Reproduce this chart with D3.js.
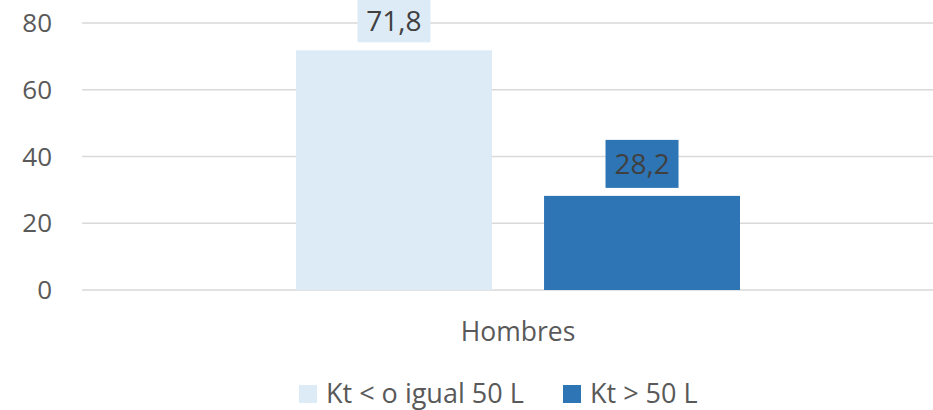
<!DOCTYPE html>
<meta charset="utf-8">
<head>
  <style>
    body { margin: 0; background: #ffffff; }
    text { font-family: "Open Sans", sans-serif; }
    .tick-label { fill: #595959; font-size: 26px; }
    .cat-label { fill: #595959; font-size: 26.5px; }
    .value-label { fill: #404040; font-size: 28px; }
    .legend-text { fill: #595959; font-size: 27px; }
  </style>
  <script src="https://cdn.jsdelivr.net/npm/d3@7/dist/d3.min.js"></script>
</head>
<body>
  <div id="viz"></div>
</body>
<script>
var categories = ["Hombres"];
var series = ["Kt < o igual 50 L", "Kt > 50 L"];
var values = [71.8, 28.2];
var colors = ["#DDEBF7", "#2E75B6"];
var yTicks = [0, 20, 40, 60, 80];

var width = 933, height = 410;
var fmt = function(v) { return String(v).replace(".", ","); };

var svg = d3.select("#viz")
  .append("svg")
    .attr("width", width)
    .attr("height", height);

var y = d3.scaleLinear().domain([0, 80]).range([290, 23]);

var x0 = d3.scaleBand()
  .domain(categories)
  .range([82, 954])
  .paddingInner(0)
  .paddingOuter(0.482);

var x1 = d3.scaleBand()
  .domain(series)
  .range([0, x0.bandwidth()])
  .paddingInner(0.21)
  .paddingOuter(0);

/* gridlines */
svg.selectAll(".grid")
  .data(yTicks)
  .enter()
  .append("line")
    .attr("x1", 82)
    .attr("x2", width)
    .attr("y1", function(d) { return y(d); })
    .attr("y2", function(d) { return y(d); })
    .attr("stroke", "#D9D9D9")
    .attr("stroke-width", 1.5);

/* y tick labels */
svg.selectAll(".tick-label")
  .data(yTicks)
  .enter()
  .append("text")
    .attr("class", "tick-label")
    .attr("x", 52)
    .attr("y", function(d) { return y(d); })
    .attr("dy", "0.35em")
    .attr("text-anchor", "end")
    .text(function(d) { return d; });

var rows = series.map(function(s, i) { return {name: s, value: values[i], color: colors[i]}; });

var g = svg.selectAll(".cat")
  .data(categories)
  .enter()
  .append("g")
    .attr("transform", function(d) { return "translate(" + x0(d) + ",0)"; });

g.selectAll("rect.bar")
  .data(rows)
  .enter()
  .append("rect")
    .attr("class", "bar")
    .attr("x", function(d) { return x1(d.name); })
    .attr("y", function(d) { return y(d.value); })
    .attr("width", x1.bandwidth())
    .attr("height", function(d) { return y(0) - y(d.value); })
    .attr("fill", function(d) { return d.color; });

/* data labels with filled boxes, clipped at the top of the chart */
var boxW = 73, boxH = 48;
function boxTop(d) { return Math.max(0, y(d.value) - 8 - boxH); }
function boxBottom(d) { return y(d.value) - 8; }

g.selectAll("rect.lbl")
  .data(rows)
  .enter()
  .append("rect")
    .attr("class", "lbl")
    .attr("x", function(d) { return x1(d.name) + x1.bandwidth() / 2 - boxW / 2; })
    .attr("y", boxTop)
    .attr("width", boxW)
    .attr("height", function(d) { return boxBottom(d) - boxTop(d); })
    .attr("fill", function(d) { return d.color; });

g.selectAll(".value-label")
  .data(rows)
  .enter()
  .append("text")
    .attr("class", "value-label")
    .attr("x", function(d) { return x1(d.name) + x1.bandwidth() / 2; })
    .attr("y", function(d) { return (boxTop(d) + boxBottom(d)) / 2; })
    .attr("dy", "0.35em")
    .attr("text-anchor", "middle")
    .text(function(d) { return fmt(d.value); });

/* category label */
svg.selectAll(".cat-label")
  .data(categories)
  .enter()
  .append("text")
    .attr("class", "cat-label")
    .attr("x", function(d) { return x0(d) + x0.bandwidth() / 2; })
    .attr("y", 332)
    .attr("dy", "0.35em")
    .attr("text-anchor", "middle")
    .text(function(d) { return d; });

/* legend */
var legendX = [299, 563];
var leg = svg.selectAll(".legend")
  .data(rows)
  .enter()
  .append("g")
    .attr("transform", function(d, i) { return "translate(" + legendX[i] + ",385)"; });

leg.append("rect")
  .attr("width", 18)
  .attr("height", 18)
  .attr("fill", function(d) { return d.color; });

leg.append("text")
  .attr("class", "legend-text")
  .attr("x", 27)
  .attr("y", 9)
  .attr("dy", "0.35em")
  .text(function(d) { return d.name; });
</script>
